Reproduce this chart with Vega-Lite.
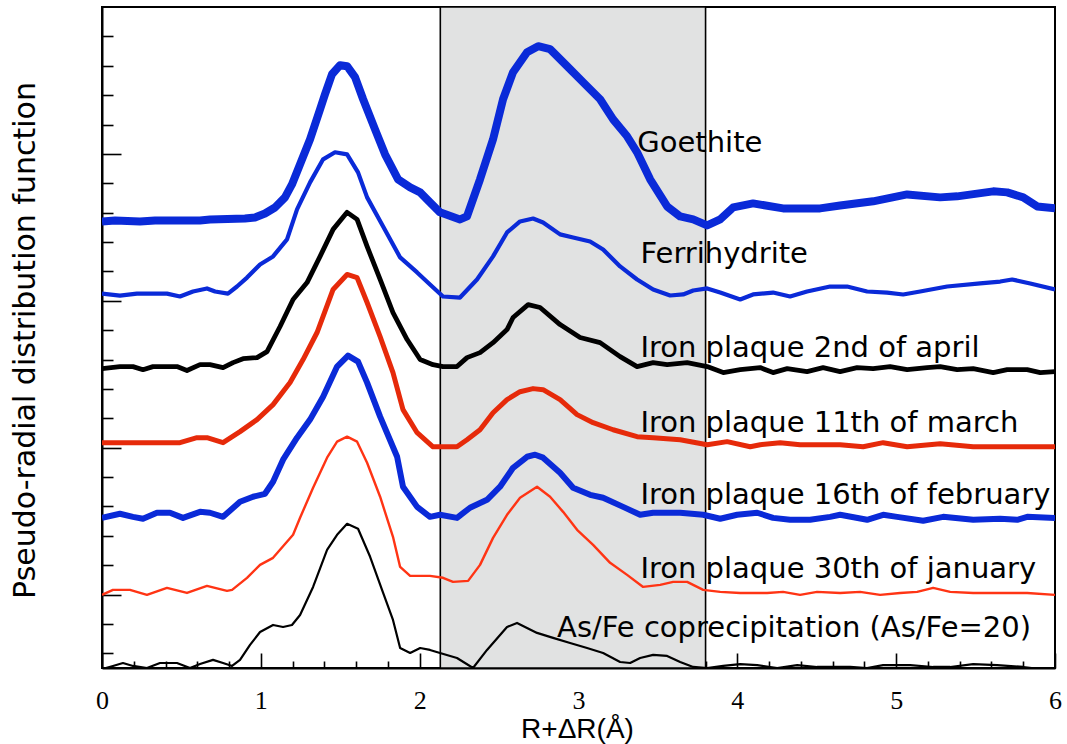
{
  "$schema": "https://vega.github.io/schema/vega-lite/v6.json",
  "width": 953,
  "height": 661,
  "autosize": {"type": "none"},
  "padding": {"left": 102, "top": 7, "right": 12, "bottom": 76},
  "background": "white",
  "config": {
    "view": {"stroke": "black", "strokeWidth": 2},
    "axis": {"grid": false, "domainColor": "black", "domainWidth": 2, "tickColor": "black", "tickWidth": 1.6, "zindex": 1}
  },
  "datasets": {
    "labels": [
      {"label": "Goethite", "x": 3.37, "y": 4.013},
      {"label": "Ferrihydrite", "x": 3.39, "y": 3.257},
      {"label": "Iron plaque 2nd of april", "x": 3.39, "y": 2.617},
      {"label": "Iron plaque 11th of march", "x": 3.39, "y": 2.107},
      {"label": "Iron plaque 16th of february", "x": 3.39, "y": 1.616},
      {"label": "Iron plaque 30th of january", "x": 3.39, "y": 1.113},
      {"label": "As/Fe coprecipitation (As/Fe=20)", "x": 2.865, "y": 0.711}
    ],
    "curves": [
      {"s":"Goethite","x":0,"y":3.540},{"s":"Goethite","x":0.082,"y":3.547},{"s":"Goethite","x":0.239,"y":3.540},{"s":"Goethite","x":0.334,"y":3.547},{"s":"Goethite","x":0.617,"y":3.547},{"s":"Goethite","x":0.680,"y":3.553},{"s":"Goethite","x":0.900,"y":3.560},{"s":"Goethite","x":0.963,"y":3.567},{"s":"Goethite","x":1.026,"y":3.594},{"s":"Goethite","x":1.089,"y":3.635},{"s":"Goethite","x":1.152,"y":3.704},{"s":"Goethite","x":1.196,"y":3.792},{"s":"Goethite","x":1.247,"y":3.929},{"s":"Goethite","x":1.310,"y":4.099},{"s":"Goethite","x":1.373,"y":4.304},{"s":"Goethite","x":1.404,"y":4.406},{"s":"Goethite","x":1.448,"y":4.542},{"s":"Goethite","x":1.499,"y":4.604},{"s":"Goethite","x":1.543,"y":4.597},{"s":"Goethite","x":1.593,"y":4.522},{"s":"Goethite","x":1.644,"y":4.372},{"s":"Goethite","x":1.719,"y":4.167},{"s":"Goethite","x":1.782,"y":3.997},{"s":"Goethite","x":1.864,"y":3.827},{"s":"Goethite","x":1.940,"y":3.772},{"s":"Goethite","x":2.003,"y":3.738},{"s":"Goethite","x":2.065,"y":3.670},{"s":"Goethite","x":2.128,"y":3.602},{"s":"Goethite","x":2.254,"y":3.554},{"s":"Goethite","x":2.298,"y":3.575},{"s":"Goethite","x":2.380,"y":3.827},{"s":"Goethite","x":2.462,"y":4.099},{"s":"Goethite","x":2.525,"y":4.372},{"s":"Goethite","x":2.588,"y":4.556},{"s":"Goethite","x":2.676,"y":4.692},{"s":"Goethite","x":2.746,"y":4.733},{"s":"Goethite","x":2.821,"y":4.713},{"s":"Goethite","x":2.928,"y":4.597},{"s":"Goethite","x":3.029,"y":4.488},{"s":"Goethite","x":3.136,"y":4.372},{"s":"Goethite","x":3.218,"y":4.235},{"s":"Goethite","x":3.306,"y":4.120},{"s":"Goethite","x":3.369,"y":4.011},{"s":"Goethite","x":3.451,"y":3.827},{"s":"Goethite","x":3.558,"y":3.642},{"s":"Goethite","x":3.640,"y":3.574},{"s":"Goethite","x":3.722,"y":3.554},{"s":"Goethite","x":3.810,"y":3.513},{"s":"Goethite","x":3.892,"y":3.554},{"s":"Goethite","x":3.974,"y":3.636},{"s":"Goethite","x":4.099,"y":3.663},{"s":"Goethite","x":4.288,"y":3.629},{"s":"Goethite","x":4.521,"y":3.629},{"s":"Goethite","x":4.647,"y":3.649},{"s":"Goethite","x":4.855,"y":3.677},{"s":"Goethite","x":5.069,"y":3.724},{"s":"Goethite","x":5.277,"y":3.704},{"s":"Goethite","x":5.384,"y":3.711},{"s":"Goethite","x":5.611,"y":3.745},{"s":"Goethite","x":5.699,"y":3.738},{"s":"Goethite","x":5.800,"y":3.704},{"s":"Goethite","x":5.888,"y":3.642},{"s":"Goethite","x":6.0,"y":3.629},

      {"s":"Ferrihydrite","x":0,"y":3.049},{"s":"Ferrihydrite","x":0.113,"y":3.035},{"s":"Ferrihydrite","x":0.220,"y":3.049},{"s":"Ferrihydrite","x":0.409,"y":3.049},{"s":"Ferrihydrite","x":0.491,"y":3.029},{"s":"Ferrihydrite","x":0.573,"y":3.063},{"s":"Ferrihydrite","x":0.661,"y":3.084},{"s":"Ferrihydrite","x":0.712,"y":3.063},{"s":"Ferrihydrite","x":0.793,"y":3.049},{"s":"Ferrihydrite","x":0.850,"y":3.097},{"s":"Ferrihydrite","x":0.913,"y":3.158},{"s":"Ferrihydrite","x":0.995,"y":3.247},{"s":"Ferrihydrite","x":1.077,"y":3.302},{"s":"Ferrihydrite","x":1.165,"y":3.418},{"s":"Ferrihydrite","x":1.228,"y":3.622},{"s":"Ferrihydrite","x":1.310,"y":3.806},{"s":"Ferrihydrite","x":1.392,"y":3.963},{"s":"Ferrihydrite","x":1.467,"y":4.011},{"s":"Ferrihydrite","x":1.543,"y":3.997},{"s":"Ferrihydrite","x":1.612,"y":3.874},{"s":"Ferrihydrite","x":1.669,"y":3.704},{"s":"Ferrihydrite","x":1.770,"y":3.506},{"s":"Ferrihydrite","x":1.877,"y":3.295},{"s":"Ferrihydrite","x":1.984,"y":3.193},{"s":"Ferrihydrite","x":2.065,"y":3.111},{"s":"Ferrihydrite","x":2.147,"y":3.029},{"s":"Ferrihydrite","x":2.254,"y":3.022},{"s":"Ferrihydrite","x":2.361,"y":3.145},{"s":"Ferrihydrite","x":2.462,"y":3.302},{"s":"Ferrihydrite","x":2.550,"y":3.465},{"s":"Ferrihydrite","x":2.632,"y":3.540},{"s":"Ferrihydrite","x":2.714,"y":3.560},{"s":"Ferrihydrite","x":2.777,"y":3.533},{"s":"Ferrihydrite","x":2.884,"y":3.452},{"s":"Ferrihydrite","x":2.966,"y":3.431},{"s":"Ferrihydrite","x":3.073,"y":3.404},{"s":"Ferrihydrite","x":3.155,"y":3.349},{"s":"Ferrihydrite","x":3.262,"y":3.234},{"s":"Ferrihydrite","x":3.369,"y":3.145},{"s":"Ferrihydrite","x":3.470,"y":3.077},{"s":"Ferrihydrite","x":3.577,"y":3.036},{"s":"Ferrihydrite","x":3.659,"y":3.043},{"s":"Ferrihydrite","x":3.722,"y":3.070},{"s":"Ferrihydrite","x":3.810,"y":3.084},{"s":"Ferrihydrite","x":3.892,"y":3.056},{"s":"Ferrihydrite","x":4.018,"y":3.009},{"s":"Ferrihydrite","x":4.099,"y":3.043},{"s":"Ferrihydrite","x":4.225,"y":3.056},{"s":"Ferrihydrite","x":4.332,"y":3.029},{"s":"Ferrihydrite","x":4.439,"y":3.063},{"s":"Ferrihydrite","x":4.584,"y":3.097},{"s":"Ferrihydrite","x":4.691,"y":3.097},{"s":"Ferrihydrite","x":4.817,"y":3.063},{"s":"Ferrihydrite","x":4.943,"y":3.056},{"s":"Ferrihydrite","x":5.044,"y":3.043},{"s":"Ferrihydrite","x":5.151,"y":3.063},{"s":"Ferrihydrite","x":5.321,"y":3.097},{"s":"Ferrihydrite","x":5.529,"y":3.118},{"s":"Ferrihydrite","x":5.655,"y":3.131},{"s":"Ferrihydrite","x":5.730,"y":3.145},{"s":"Ferrihydrite","x":5.844,"y":3.118},{"s":"Ferrihydrite","x":6.0,"y":3.077},

      {"s":"April","x":0,"y":2.538},{"s":"April","x":0.113,"y":2.552},{"s":"April","x":0.195,"y":2.552},{"s":"April","x":0.258,"y":2.531},{"s":"April","x":0.321,"y":2.552},{"s":"April","x":0.472,"y":2.552},{"s":"April","x":0.535,"y":2.525},{"s":"April","x":0.617,"y":2.565},{"s":"April","x":0.680,"y":2.565},{"s":"April","x":0.762,"y":2.545},{"s":"April","x":0.825,"y":2.579},{"s":"April","x":0.888,"y":2.606},{"s":"April","x":0.976,"y":2.613},{"s":"April","x":1.039,"y":2.654},{"s":"April","x":1.121,"y":2.825},{"s":"April","x":1.203,"y":3.009},{"s":"April","x":1.291,"y":3.124},{"s":"April","x":1.373,"y":3.302},{"s":"April","x":1.455,"y":3.486},{"s":"April","x":1.543,"y":3.602},{"s":"April","x":1.606,"y":3.554},{"s":"April","x":1.669,"y":3.370},{"s":"April","x":1.751,"y":3.145},{"s":"April","x":1.832,"y":2.920},{"s":"April","x":1.921,"y":2.736},{"s":"April","x":2.003,"y":2.600},{"s":"April","x":2.084,"y":2.565},{"s":"April","x":2.147,"y":2.552},{"s":"April","x":2.235,"y":2.552},{"s":"April","x":2.298,"y":2.613},{"s":"April","x":2.380,"y":2.647},{"s":"April","x":2.462,"y":2.715},{"s":"April","x":2.550,"y":2.804},{"s":"April","x":2.588,"y":2.886},{"s":"April","x":2.683,"y":2.974},{"s":"April","x":2.758,"y":2.954},{"s":"April","x":2.884,"y":2.838},{"s":"April","x":3.010,"y":2.750},{"s":"April","x":3.136,"y":2.715},{"s":"April","x":3.262,"y":2.620},{"s":"April","x":3.369,"y":2.552},{"s":"April","x":3.470,"y":2.579},{"s":"April","x":3.558,"y":2.565},{"s":"April","x":3.684,"y":2.579},{"s":"April","x":3.810,"y":2.552},{"s":"April","x":3.911,"y":2.511},{"s":"April","x":4.018,"y":2.531},{"s":"April","x":4.144,"y":2.545},{"s":"April","x":4.225,"y":2.511},{"s":"April","x":4.314,"y":2.538},{"s":"April","x":4.439,"y":2.518},{"s":"April","x":4.540,"y":2.545},{"s":"April","x":4.647,"y":2.518},{"s":"April","x":4.754,"y":2.545},{"s":"April","x":4.855,"y":2.538},{"s":"April","x":4.962,"y":2.552},{"s":"April","x":5.069,"y":2.531},{"s":"April","x":5.195,"y":2.545},{"s":"April","x":5.277,"y":2.552},{"s":"April","x":5.384,"y":2.531},{"s":"April","x":5.485,"y":2.538},{"s":"April","x":5.611,"y":2.511},{"s":"April","x":5.699,"y":2.531},{"s":"April","x":5.825,"y":2.531},{"s":"April","x":5.907,"y":2.511},{"s":"April","x":6.0,"y":2.518},

      {"s":"March","x":0,"y":2.034},{"s":"March","x":0.491,"y":2.034},{"s":"March","x":0.598,"y":2.068},{"s":"March","x":0.661,"y":2.068},{"s":"March","x":0.762,"y":2.034},{"s":"March","x":0.869,"y":2.109},{"s":"March","x":0.976,"y":2.191},{"s":"March","x":1.077,"y":2.293},{"s":"March","x":1.184,"y":2.443},{"s":"March","x":1.266,"y":2.600},{"s":"March","x":1.354,"y":2.784},{"s":"March","x":1.455,"y":3.077},{"s":"March","x":1.543,"y":3.179},{"s":"March","x":1.606,"y":3.158},{"s":"March","x":1.669,"y":2.988},{"s":"March","x":1.751,"y":2.756},{"s":"March","x":1.832,"y":2.511},{"s":"March","x":1.895,"y":2.259},{"s":"March","x":1.984,"y":2.102},{"s":"March","x":2.084,"y":2.006},{"s":"March","x":2.235,"y":2.006},{"s":"March","x":2.298,"y":2.054},{"s":"March","x":2.380,"y":2.122},{"s":"March","x":2.462,"y":2.238},{"s":"March","x":2.550,"y":2.327},{"s":"March","x":2.632,"y":2.381},{"s":"March","x":2.714,"y":2.402},{"s":"March","x":2.777,"y":2.395},{"s":"March","x":2.884,"y":2.327},{"s":"March","x":2.991,"y":2.225},{"s":"March","x":3.092,"y":2.170},{"s":"March","x":3.218,"y":2.122},{"s":"March","x":3.369,"y":2.075},{"s":"March","x":3.470,"y":2.068},{"s":"March","x":3.640,"y":2.054},{"s":"March","x":3.810,"y":2.020},{"s":"March","x":3.936,"y":2.041},{"s":"March","x":4.081,"y":2.006},{"s":"March","x":4.144,"y":2.020},{"s":"March","x":4.270,"y":2.034},{"s":"March","x":4.395,"y":2.020},{"s":"March","x":4.647,"y":2.020},{"s":"March","x":4.792,"y":2.006},{"s":"March","x":4.918,"y":2.034},{"s":"March","x":5.069,"y":2.006},{"s":"March","x":5.277,"y":2.027},{"s":"March","x":5.485,"y":2.006},{"s":"March","x":6.0,"y":2.006},

      {"s":"February","x":0,"y":1.522},{"s":"February","x":0.113,"y":1.550},{"s":"February","x":0.195,"y":1.529},{"s":"February","x":0.258,"y":1.516},{"s":"February","x":0.346,"y":1.557},{"s":"February","x":0.428,"y":1.557},{"s":"February","x":0.510,"y":1.522},{"s":"February","x":0.617,"y":1.563},{"s":"February","x":0.680,"y":1.557},{"s":"February","x":0.762,"y":1.529},{"s":"February","x":0.869,"y":1.632},{"s":"February","x":0.951,"y":1.666},{"s":"February","x":1.026,"y":1.686},{"s":"February","x":1.077,"y":1.768},{"s":"February","x":1.140,"y":1.918},{"s":"February","x":1.228,"y":2.068},{"s":"February","x":1.310,"y":2.191},{"s":"February","x":1.392,"y":2.347},{"s":"February","x":1.480,"y":2.552},{"s":"February","x":1.549,"y":2.627},{"s":"February","x":1.612,"y":2.586},{"s":"February","x":1.669,"y":2.443},{"s":"February","x":1.751,"y":2.211},{"s":"February","x":1.858,"y":1.938},{"s":"February","x":1.895,"y":1.734},{"s":"February","x":1.984,"y":1.597},{"s":"February","x":2.065,"y":1.529},{"s":"February","x":2.128,"y":1.543},{"s":"February","x":2.235,"y":1.522},{"s":"February","x":2.317,"y":1.591},{"s":"February","x":2.424,"y":1.645},{"s":"February","x":2.506,"y":1.734},{"s":"February","x":2.588,"y":1.863},{"s":"February","x":2.676,"y":1.938},{"s":"February","x":2.727,"y":1.952},{"s":"February","x":2.777,"y":1.932},{"s":"February","x":2.884,"y":1.829},{"s":"February","x":2.966,"y":1.727},{"s":"February","x":3.073,"y":1.679},{"s":"February","x":3.155,"y":1.659},{"s":"February","x":3.281,"y":1.597},{"s":"February","x":3.388,"y":1.543},{"s":"February","x":3.470,"y":1.557},{"s":"February","x":3.640,"y":1.557},{"s":"February","x":3.785,"y":1.543},{"s":"February","x":3.892,"y":1.516},{"s":"February","x":3.999,"y":1.543},{"s":"February","x":4.125,"y":1.557},{"s":"February","x":4.225,"y":1.522},{"s":"February","x":4.332,"y":1.509},{"s":"February","x":4.458,"y":1.509},{"s":"February","x":4.584,"y":1.529},{"s":"February","x":4.647,"y":1.543},{"s":"February","x":4.817,"y":1.509},{"s":"February","x":4.918,"y":1.543},{"s":"February","x":5.006,"y":1.529},{"s":"February","x":5.170,"y":1.502},{"s":"February","x":5.296,"y":1.529},{"s":"February","x":5.485,"y":1.509},{"s":"February","x":5.655,"y":1.516},{"s":"February","x":5.762,"y":1.509},{"s":"February","x":5.825,"y":1.529},{"s":"February","x":6.0,"y":1.522},

      {"s":"January","x":0,"y":0.998},{"s":"January","x":0.069,"y":1.032},{"s":"January","x":0.176,"y":1.032},{"s":"January","x":0.283,"y":0.998},{"s":"January","x":0.409,"y":1.045},{"s":"January","x":0.535,"y":1.011},{"s":"January","x":0.661,"y":1.059},{"s":"January","x":0.787,"y":1.025},{"s":"January","x":0.819,"y":1.032},{"s":"January","x":0.913,"y":1.114},{"s":"January","x":0.995,"y":1.202},{"s":"January","x":1.077,"y":1.250},{"s":"January","x":1.203,"y":1.407},{"s":"January","x":1.247,"y":1.523},{"s":"January","x":1.329,"y":1.727},{"s":"January","x":1.417,"y":1.932},{"s":"January","x":1.480,"y":2.041},{"s":"January","x":1.543,"y":2.075},{"s":"January","x":1.606,"y":2.041},{"s":"January","x":1.669,"y":1.897},{"s":"January","x":1.751,"y":1.666},{"s":"January","x":1.832,"y":1.393},{"s":"January","x":1.877,"y":1.188},{"s":"January","x":1.940,"y":1.127},{"s":"January","x":2.065,"y":1.127},{"s":"January","x":2.147,"y":1.114},{"s":"January","x":2.210,"y":1.086},{"s":"January","x":2.305,"y":1.093},{"s":"January","x":2.380,"y":1.202},{"s":"January","x":2.462,"y":1.386},{"s":"January","x":2.550,"y":1.543},{"s":"January","x":2.632,"y":1.659},{"s":"January","x":2.739,"y":1.734},{"s":"January","x":2.821,"y":1.666},{"s":"January","x":2.903,"y":1.563},{"s":"January","x":2.991,"y":1.441},{"s":"January","x":3.092,"y":1.338},{"s":"January","x":3.199,"y":1.216},{"s":"January","x":3.306,"y":1.134},{"s":"January","x":3.407,"y":1.052},{"s":"January","x":3.514,"y":1.066},{"s":"January","x":3.596,"y":1.086},{"s":"January","x":3.684,"y":1.086},{"s":"January","x":3.785,"y":1.032},{"s":"January","x":3.892,"y":1.018},{"s":"January","x":4.018,"y":1.011},{"s":"January","x":4.188,"y":1.011},{"s":"January","x":4.288,"y":1.018},{"s":"January","x":4.395,"y":0.998},{"s":"January","x":4.502,"y":1.018},{"s":"January","x":4.647,"y":1.011},{"s":"January","x":4.773,"y":1.018},{"s":"January","x":4.899,"y":0.998},{"s":"January","x":5.025,"y":1.011},{"s":"January","x":5.132,"y":1.018},{"s":"January","x":5.233,"y":1.045},{"s":"January","x":5.340,"y":1.018},{"s":"January","x":5.485,"y":1.011},{"s":"January","x":5.655,"y":1.011},{"s":"January","x":5.825,"y":1.011},{"s":"January","x":6.0,"y":0.998},

      {"s":"AsFe","x":0,"y":0.493},{"s":"AsFe","x":0.069,"y":0.514},{"s":"AsFe","x":0.132,"y":0.534},{"s":"AsFe","x":0.195,"y":0.514},{"s":"AsFe","x":0.283,"y":0.500},{"s":"AsFe","x":0.365,"y":0.534},{"s":"AsFe","x":0.472,"y":0.534},{"s":"AsFe","x":0.554,"y":0.500},{"s":"AsFe","x":0.617,"y":0.527},{"s":"AsFe","x":0.699,"y":0.555},{"s":"AsFe","x":0.762,"y":0.534},{"s":"AsFe","x":0.819,"y":0.514},{"s":"AsFe","x":0.869,"y":0.555},{"s":"AsFe","x":0.932,"y":0.657},{"s":"AsFe","x":0.995,"y":0.745},{"s":"AsFe","x":1.077,"y":0.793},{"s":"AsFe","x":1.140,"y":0.779},{"s":"AsFe","x":1.196,"y":0.793},{"s":"AsFe","x":1.247,"y":0.861},{"s":"AsFe","x":1.329,"y":1.052},{"s":"AsFe","x":1.417,"y":1.304},{"s":"AsFe","x":1.480,"y":1.407},{"s":"AsFe","x":1.543,"y":1.482},{"s":"AsFe","x":1.612,"y":1.448},{"s":"AsFe","x":1.688,"y":1.257},{"s":"AsFe","x":1.770,"y":1.011},{"s":"AsFe","x":1.832,"y":0.827},{"s":"AsFe","x":1.877,"y":0.636},{"s":"AsFe","x":1.940,"y":0.602},{"s":"AsFe","x":2.003,"y":0.636},{"s":"AsFe","x":2.065,"y":0.623},{"s":"AsFe","x":2.128,"y":0.602},{"s":"AsFe","x":2.235,"y":0.568},{"s":"AsFe","x":2.336,"y":0.500},{"s":"AsFe","x":2.424,"y":0.623},{"s":"AsFe","x":2.550,"y":0.779},{"s":"AsFe","x":2.613,"y":0.807},{"s":"AsFe","x":2.739,"y":0.739},{"s":"AsFe","x":2.840,"y":0.705},{"s":"AsFe","x":2.947,"y":0.670},{"s":"AsFe","x":3.054,"y":0.636},{"s":"AsFe","x":3.155,"y":0.602},{"s":"AsFe","x":3.262,"y":0.541},{"s":"AsFe","x":3.325,"y":0.534},{"s":"AsFe","x":3.388,"y":0.568},{"s":"AsFe","x":3.470,"y":0.589},{"s":"AsFe","x":3.558,"y":0.582},{"s":"AsFe","x":3.640,"y":0.541},{"s":"AsFe","x":3.722,"y":0.507},{"s":"AsFe","x":3.810,"y":0.500},{"s":"AsFe","x":3.911,"y":0.514},{"s":"AsFe","x":4.018,"y":0.527},{"s":"AsFe","x":4.125,"y":0.520},{"s":"AsFe","x":4.251,"y":0.500},{"s":"AsFe","x":4.377,"y":0.520},{"s":"AsFe","x":4.502,"y":0.507},{"s":"AsFe","x":4.710,"y":0.507},{"s":"AsFe","x":4.817,"y":0.500},{"s":"AsFe","x":4.918,"y":0.520},{"s":"AsFe","x":5.088,"y":0.520},{"s":"AsFe","x":5.233,"y":0.507},{"s":"AsFe","x":5.340,"y":0.507},{"s":"AsFe","x":5.485,"y":0.527},{"s":"AsFe","x":5.636,"y":0.520},{"s":"AsFe","x":5.800,"y":0.507},{"s":"AsFe","x":5.926,"y":0.490},{"s":"AsFe","x":6.0,"y":0.500}
    ]
  },
  "encoding": {
    "x": {
      "field": "x", "type": "quantitative",
      "scale": {"domain": [0, 6], "nice": false, "zero": false},
      "axis": {
        "title": "R+ΔR(Å)",
        "values": [0,0.2,0.4,0.6,0.8,1,1.2,1.4,1.6,1.8,2,2.2,2.4,2.6,2.8,3,3.2,3.4,3.6,3.8,4,4.2,4.4,4.6,4.8,5,5.2,5.4,5.6,5.8,6],
        "labelExpr": "abs(datum.value - round(datum.value)) < 0.001 ? format(datum.value, 'd') : ''",
        "tickSize": {"condition": {"test": "abs(datum.value - round(datum.value)) < 0.001", "value": -15}, "value": -7},
        "labelFont": "Liberation Serif", "labelFontSize": 26, "labelColor": "black",
        "labelBaseline": "alphabetic", "labelPadding": 55, "labelFlush": false,
        "titleFont": "Liberation Sans", "titleFontSize": 28, "titleFontWeight": "normal", "titleColor": "black",
        "titleX": 475, "titleY": 69, "titleBaseline": "alphabetic", "titleAlign": "center"
      }
    },
    "y": {
      "field": "y", "type": "quantitative",
      "scale": {"domain": [0.5, 5], "nice": false, "zero": false},
      "axis": {
        "title": "Pseudo-radial distribution function",
        "values": [0.6,0.8,1,1.2,1.4,1.6,1.8,2,2.2,2.4,2.6,2.8,3,3.2,3.4,3.6,3.8,4,4.2,4.4,4.6,4.8],
        "labels": false,
        "tickSize": {"condition": {"test": "abs(datum.value - round(datum.value)) < 0.001", "value": -19}, "value": -11},
        "titleFont": "DejaVu Sans", "titleFontSize": 30, "titleFontWeight": "normal", "titleColor": "black",
        "titleX": -68, "titleY": 333, "titleBaseline": "alphabetic", "titleAlign": "center", "titleAngle": -90
      }
    }
  },
  "layer": [
    {
      "data": {"values": [{"x": 2.13, "xe": 3.8, "y": 0.5, "ye": 5}]},
      "mark": {"type": "rect", "fill": "#e1e2e2", "stroke": "black", "strokeWidth": 1.6},
      "encoding": {"x2": {"field": "xe"}, "y2": {"field": "ye"}}
    },
    {
      "data": {"name": "curves"},
      "transform": [{"filter": "datum.s === 'AsFe'"}],
      "mark": {"type": "line", "color": "black", "strokeWidth": 2.2, "clip": true, "strokeJoin": "round"}
    },
    {
      "data": {"name": "curves"},
      "transform": [{"filter": "datum.s === 'January'"}],
      "mark": {"type": "line", "color": "#ff3414", "strokeWidth": 2.4, "clip": true, "strokeJoin": "round"}
    },
    {
      "data": {"name": "curves"},
      "transform": [{"filter": "datum.s === 'February'"}],
      "mark": {"type": "line", "color": "#0a2ad8", "strokeWidth": 6, "clip": true, "strokeJoin": "round"}
    },
    {
      "data": {"name": "curves"},
      "transform": [{"filter": "datum.s === 'March'"}],
      "mark": {"type": "line", "color": "#e62a0a", "strokeWidth": 5, "clip": true, "strokeJoin": "round"}
    },
    {
      "data": {"name": "curves"},
      "transform": [{"filter": "datum.s === 'April'"}],
      "mark": {"type": "line", "color": "black", "strokeWidth": 4.8, "clip": true, "strokeJoin": "round"}
    },
    {
      "data": {"name": "curves"},
      "transform": [{"filter": "datum.s === 'Ferrihydrite'"}],
      "mark": {"type": "line", "color": "#0a2ad8", "strokeWidth": 4.2, "clip": true, "strokeJoin": "round"}
    },
    {
      "data": {"name": "curves"},
      "transform": [{"filter": "datum.s === 'Goethite'"}],
      "mark": {"type": "line", "color": "#0a2ad8", "strokeWidth": 8, "clip": true, "strokeJoin": "round"}
    },
    {
      "data": {"name": "labels"},
      "mark": {"type": "text", "align": "left", "baseline": "alphabetic", "font": "DejaVu Sans", "fontSize": 29, "color": "black"},
      "encoding": {"text": {"field": "label"}}
    }
  ]
}
